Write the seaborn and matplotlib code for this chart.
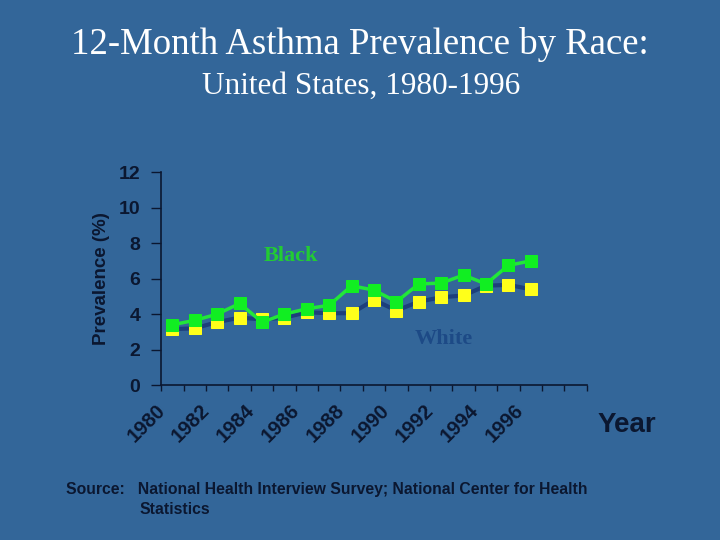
import matplotlib
matplotlib.use("Agg")
import matplotlib.pyplot as plt
import matplotlib.transforms as mtransforms
import seaborn as sns
import pandas as pd

# Data
years = list(range(1980, 1997))
black = [3.4, 3.65, 4.0, 4.6, 3.55, 4.0, 4.3, 4.5, 5.6, 5.35, 4.7, 5.7, 5.75, 6.2, 5.7, 6.75, 7.0]
white = [3.15, 3.2, 3.55, 3.8, 3.7, 3.8, 4.1, 4.05, 4.05, 4.8, 4.2, 4.7, 4.95, 5.05, 5.6, 5.65, 5.4]
year_labels = [str(y) for y in range(1980, 1997, 2)]

bg = "#336699"
ink = "#0b1730"

sns.set_theme(style="white")
plt.rcParams["font.family"] = ["Liberation Sans", "DejaVu Sans"]

df = pd.DataFrame({"Year": years, "Black": black, "White": white})

fig = plt.figure(figsize=(7.2, 5.4), dpi=100, facecolor=bg)
ax = fig.add_axes([0.224, 0.287, 0.591, 0.394])
ax.set_facecolor(bg)

# White: navy line, yellow squares
sns.lineplot(data=df, x="Year", y="White", ax=ax, color="#1d3f7c", linewidth=3,
             marker="s", markersize=8.5, markerfacecolor="#ffff1a",
             markeredgecolor="#ffff1a", zorder=2)
# Black: green line, green squares
sns.lineplot(data=df, x="Year", y="Black", ax=ax, color="#22e63a", linewidth=2.5,
             marker="s", markersize=8.5, markerfacecolor="#11ee22",
             markeredgecolor="#11ee22", zorder=3)

ax.set_xlim(1979.5, 1998.5)
ax.set_ylim(0, 12)
ax.set_yticks(range(0, 13, 2))
ax.set_yticklabels([str(v) for v in range(0, 13, 2)], fontsize=14,
                   fontweight="bold", color=ink)

# slot boundary ticks on x, labels every two years
ax.set_xticks([1979.5 + i for i in range(20)])
ax.set_xticklabels([])
ax.set_xticks(list(range(1980, 1997, 2)), minor=True)
ax.tick_params(axis="x", which="major", direction="out", length=4, width=1, color=ink, bottom=True)
ax.tick_params(axis="x", which="minor", length=0, pad=11, bottom=True)
ax.tick_params(axis="y", direction="out", length=7, width=1, color=ink, pad=8, left=True)
ax.set_xticklabels(year_labels, minor=True, rotation=45, ha="right",
                   rotation_mode="anchor", fontsize=14.5, fontweight="bold", color=ink)
# nudge the slanted year labels left, like the original slide
shift = mtransforms.ScaledTranslation(-17 / 100, 0, fig.dpi_scale_trans)
for lab in ax.get_xticklabels(minor=True):
    lab.set_transform(lab.get_transform() + shift)

for side in ["top", "right"]:
    ax.spines[side].set_visible(False)
for side in ["left", "bottom"]:
    ax.spines[side].set_color(ink)
    ax.spines[side].set_linewidth(1.2)

ax.set_xlabel("")
ax.set_ylabel("Prevalence (%)", fontsize=13.5, fontweight="bold", color=ink, labelpad=6)

ax.text(1985.3, 7.3, "Black", fontsize=16, fontweight="bold", color="#22cc33",
        family=["Liberation Serif", "DejaVu Serif"], ha="center", va="center")
ax.text(1992.1, 2.6, "White", fontsize=16, fontweight="bold", color="#1d4a86",
        family=["Liberation Serif", "DejaVu Serif"], ha="center", va="center")

fig.text(0.871, 0.213, "Year", fontsize=20, fontweight="bold", color=ink,
         ha="center", va="center")

fig.text(0.5, 0.918, "12-Month Asthma Prevalence by Race:", fontsize=26.5,
         color="white", family=["Liberation Serif", "DejaVu Serif"], ha="center", va="center")
fig.text(0.502, 0.84, "United States, 1980-1996", fontsize=22.5,
         color="white", family=["Liberation Serif", "DejaVu Serif"], ha="center", va="center")

fig.text(0.092, 0.094, "Source:   National Health Interview Survey; National Center for Health",
         fontsize=11.3, fontweight="bold", color=ink, ha="left", va="center")
fig.text(0.194, 0.057, "Statistics", fontsize=11.3, fontweight="bold", color=ink,
         ha="left", va="center")

fig.savefig("out.png", dpi=100, facecolor=bg)
